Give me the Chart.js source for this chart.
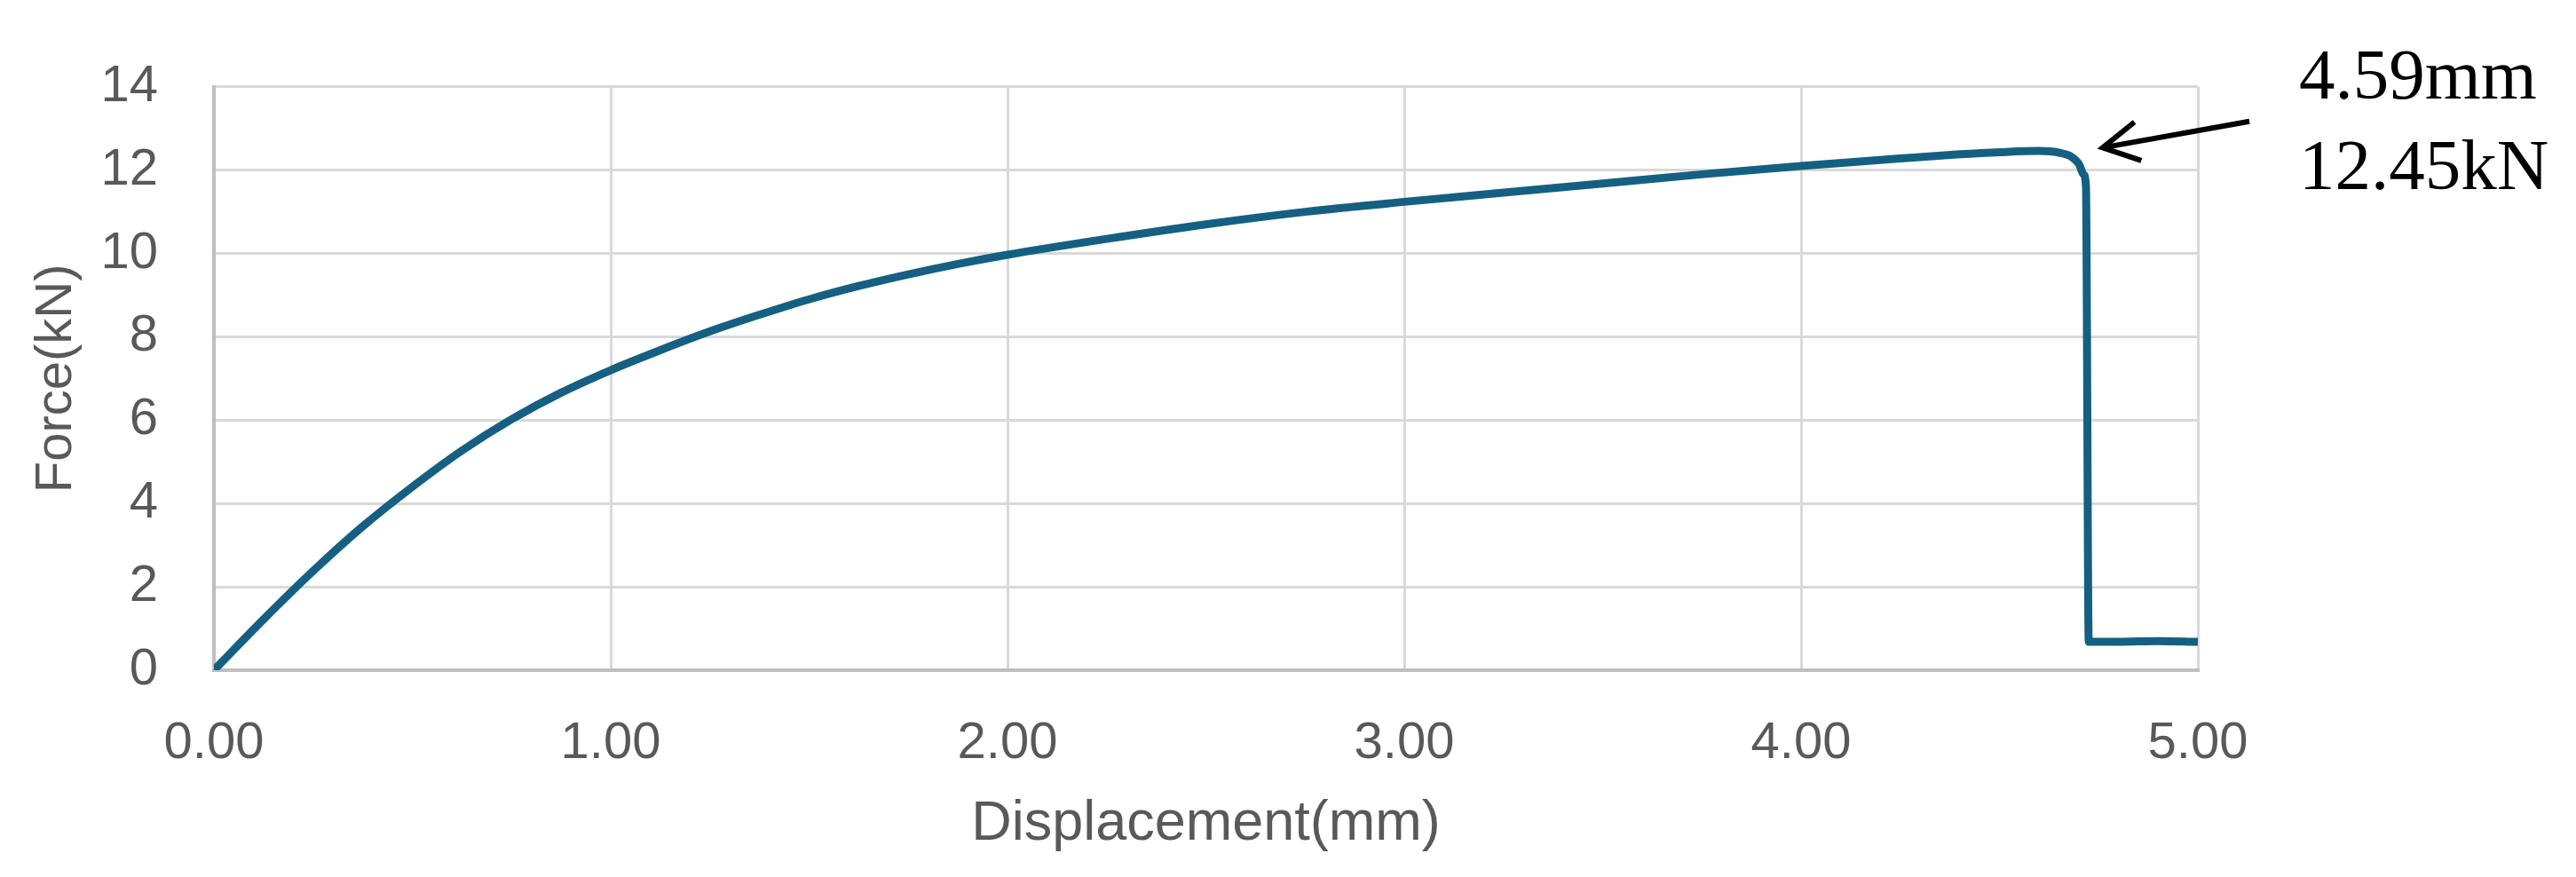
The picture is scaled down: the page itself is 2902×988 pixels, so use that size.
<!DOCTYPE html>
<html>
<head>
<meta charset="utf-8">
<script src="https://cdn.jsdelivr.net/npm/chart.js@4"></script>
<style>
  html, body { margin: 0; padding: 0; background: #fff; }
  #wrap { width: 2902px; height: 988px; }
</style>
</head>
<body>
<div id="wrap"><canvas id="forceChart"></canvas></div>
<script>
'use strict';

// displacement (mm) / force (kN)
var displacement = [0, 0.125, 0.25, 0.375, 0.5, 0.625, 0.75, 0.875, 1.0, 1.125, 1.25, 1.375, 1.5, 1.625, 1.75,
  1.875, 2.0, 2.25, 2.5, 2.75, 3.0, 3.25, 3.5, 3.75, 4.0, 4.25, 4.4, 4.5, 4.6, 4.65, 4.68, 4.70, 4.712, 4.718,
  4.725, 4.8, 4.9, 5.0];
var force = [0, 1.22, 2.38, 3.45, 4.4, 5.27, 6.02, 6.66, 7.2, 7.68, 8.13, 8.53, 8.9, 9.22, 9.5,
  9.75, 9.97, 10.35, 10.7, 11.0, 11.24, 11.46, 11.68, 11.9, 12.1, 12.28, 12.38, 12.43, 12.46, 12.42, 12.33, 12.15, 11.9, 11.6,
  0.68, 0.68, 0.7, 0.68];

var xTicks = [0, 1, 2, 3, 4, 5];
var yTicks = [0, 2, 4, 6, 8, 10, 12, 14];

// peak note
var peakLabel = ['4.59mm', '12.45kN'];
var arrowTip = [4.76, 12.54];
var arrowTail = [5.13, 13.17];

var points = [];
for (var i = 0; i < displacement.length; i++) {
  points.push({ x: displacement[i], y: force[i] });
}

var axisFont = { family: 'Liberation Sans', size: 58 };
var grey = '#595959';

// arrow + text to the right of the plot
var peakNote = {
  id: 'peakNote',
  afterDraw: function (chart) {
    var ctx = chart.ctx;
    var xs = chart.scales.x, ys = chart.scales.y;
    var tx = xs.getPixelForValue(arrowTip[0]), ty = ys.getPixelForValue(arrowTip[1]);
    var sx = xs.getPixelForValue(arrowTail[0]), sy = ys.getPixelForValue(arrowTail[1]);
    var ang = Math.atan2(ty - sy, tx - sx);
    var head = 46, spread = 0.5;

    ctx.save();
    ctx.strokeStyle = '#000';
    ctx.lineWidth = 6;
    ctx.beginPath();
    ctx.moveTo(sx, sy);
    ctx.lineTo(tx, ty);
    ctx.stroke();
    ctx.beginPath();
    ctx.moveTo(tx - head * Math.cos(ang - spread), ty - head * Math.sin(ang - spread));
    ctx.lineTo(tx, ty);
    ctx.lineTo(tx - head * Math.cos(ang + spread), ty - head * Math.sin(ang + spread));
    ctx.stroke();

    ctx.fillStyle = '#000';
    ctx.font = '81px "Liberation Serif"';
    ctx.textAlign = 'left';
    ctx.textBaseline = 'alphabetic';
    var left = chart.chartArea.right + 114;
    ctx.fillText(peakLabel[0], left, 111);
    ctx.fillText(peakLabel[1], left, 213);
    ctx.restore();
  }
};

var ctx = document.getElementById('forceChart');
new Chart(ctx, {
  type: 'line',
  data: {
    datasets: [{
      data: points,
      borderColor: '#156082',
      borderWidth: 9,
      pointRadius: 0,
      fill: false,
      cubicInterpolationMode: 'monotone'
    }]
  },
  options: {
    responsive: true,
    maintainAspectRatio: false,
    animation: false,
    layout: { padding: { top: 91, right: 426, left: 0, bottom: 0 } },
    plugins: { legend: { display: false }, tooltip: { enabled: false } },
    scales: {
      x: {
        type: 'linear',
        min: 0,
        max: 5,
        afterBuildTicks: function (scale) {
          scale.ticks = xTicks.map(function (v) { return { value: v }; });
        },
        afterFit: function (scale) { scale.height = 233; },
        grid: { color: '#d9d9d9', lineWidth: 3, drawTicks: false },
        border: { color: '#bfbfbf', width: 4 },
        ticks: {
          color: grey,
          font: axisFont,
          padding: 48,
          maxRotation: 0,
          callback: function (v) { return Number(v).toFixed(2); }
        },
        title: {
          display: true,
          text: 'Displacement(mm)',
          color: grey,
          font: { family: 'Liberation Sans', size: 63 },
          padding: { top: 0, bottom: 22 }
        }
      },
      y: {
        min: 0,
        max: 14,
        afterBuildTicks: function (scale) {
          scale.ticks = yTicks.map(function (v) { return { value: v }; });
        },
        afterFit: function (scale) { scale.width = 241; },
        grid: { color: '#d9d9d9', lineWidth: 3, drawTicks: false },
        border: { color: '#bfbfbf', width: 4 },
        ticks: { color: grey, font: axisFont, padding: 63 },
        title: {
          display: true,
          text: 'Force(kN)',
          color: grey,
          font: axisFont,
          padding: { top: 29, bottom: 0 }
        }
      }
    }
  },
  plugins: [peakNote]
});
</script>
</body>
</html>
